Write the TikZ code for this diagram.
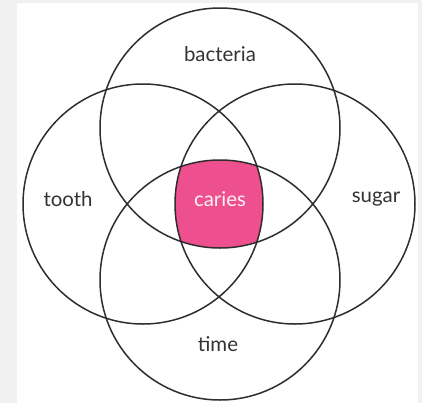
\documentclass[tikz,border=0pt]{standalone}
\usepackage{fontspec}
\setmainfont{Lato}
\usepackage{tikz}
\usetikzlibrary{positioning}
\definecolor{cariespink}{HTML}{EE4F8E}
\definecolor{ringgray}{HTML}{2E2E2E}
\definecolor{pagegray}{HTML}{F1F1F1}

\begin{document}
\begin{tikzpicture}[x=1bp, y=-1bp,
    ring/.style={draw=ringgray, line width=1.5bp},
    lbl/.style={font=\fontsize{20.5}{24}\selectfont, text=black!80}
]
\fill[pagegray] (0,0) rectangle (422,403);
\fill[white] (17,3) rectangle (418,403);
\useasboundingbox (0,0) rectangle (422,403);

\coordinate (ctop) at (220,128);
\coordinate (cleft) at (143,204);
\coordinate (cright) at (295,204);
\coordinate (cbot) at (220,280);

% overlap of all four
\begin{scope}
  \clip (ctop) circle [radius=120];
  \clip (cleft) circle [radius=120];
  \clip (cright) circle [radius=120];
  \fill[cariespink] (cbot) circle [radius=120];
\end{scope}

\draw[ring] (ctop) circle [radius=120];
\draw[ring] (cleft) circle [radius=120];
\draw[ring] (cright) circle [radius=120];
\draw[ring] (cbot) circle [radius=120];

\node[lbl] (bacteria) at (220,54) {bacteria};
\node[lbl] (tooth) at (68,199) {tooth};
\node[lbl] (sugar) at (376,199) {sugar};
\node[lbl] (time) at (218,344) {time};
\node[lbl, text=white!92!cariespink] (caries) at (220,199) {caries};
\end{tikzpicture}
\end{document}
